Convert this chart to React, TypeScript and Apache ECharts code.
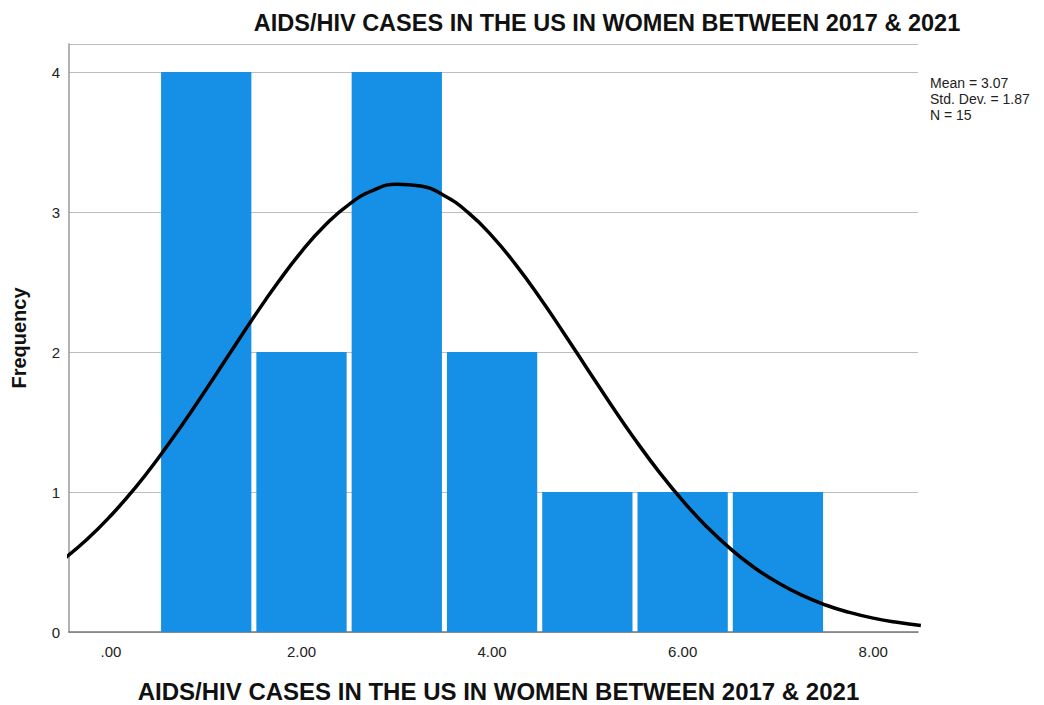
import React, { useEffect, useRef } from "react";
import * as echarts from "echarts";

const titleText = "AIDS/HIV CASES IN THE US IN WOMEN BETWEEN 2017 & 2021";
const xAxisName = "AIDS/HIV CASES IN THE US IN WOMEN BETWEEN 2017 & 2021";
const yAxisName = "Frequency";

// histogram bins (centers) and frequencies
const binCenters = [1, 2, 3, 4, 5, 6, 7];
const frequencies = [4, 2, 4, 2, 1, 1, 1];

// normal curve
const curveX = [-0.5, -0.25, 0, 0.25, 0.5, 0.75, 1, 1.25, 1.5, 1.75, 2, 2.25, 2.5, 2.75, 3, 3.25, 3.5, 3.75, 4, 4.25, 4.5, 4.75, 5, 5.25, 5.5, 5.75, 6, 6.25, 6.5, 6.75, 7, 7.25, 7.5, 7.75, 8, 8.25, 8.5];
const curveY = [0.518, 0.662, 0.832, 1.026, 1.245, 1.482, 1.734, 1.993, 2.25, 2.494, 2.717, 2.907, 3.055, 3.154, 3.198, 3.185, 3.116, 2.995, 2.828, 2.622, 2.389, 2.138, 1.879, 1.622, 1.375, 1.146, 0.938, 0.754, 0.595, 0.461, 0.352, 0.263, 0.193, 0.14, 0.099, 0.069, 0.047];

const xTickValues = [0, 2, 4, 6, 8];
const statsLines = ["Mean = 3.07", "Std. Dev. = 1.87", "N = 15"];

export default function App() {
  const ref = useRef<HTMLDivElement>(null);
  useEffect(() => {
    if (!ref.current) return;
    const chart = echarts.init(ref.current, undefined, { renderer: "svg" });
    const font = "'Liberation Sans', Arial, sans-serif";
    chart.setOption({
      animation: false,
      backgroundColor: "#ffffff",
      title: {
        text: titleText,
        left: 602,
        top: 6,
        textAlign: "center",
        textStyle: { fontFamily: font, fontSize: 23.5, fontWeight: "bold", color: "#111" },
      },
      grid: { left: 69, right: 126, top: 44, bottom: 73, containLabel: false, outerBoundsMode: "none" },
      xAxis: {
        type: "value",
        min: -0.44,
        max: 8.47,
        name: xAxisName,
        nameLocation: "middle",
        nameGap: 47,
        nameTextStyle: { fontFamily: font, fontSize: 24, fontWeight: "bold", color: "#111", padding: [0, 0, 0, 10] },
        axisLine: { show: true, onZero: false, lineStyle: { color: "#777", width: 1.5 } },
        axisTick: { show: false },
        splitLine: { show: false },
        axisLabel: {
          customValues: xTickValues,
          margin: 12,
          fontFamily: font,
          fontSize: 15,
          color: "#222",
          formatter: (v: number) => (v === 0 ? ".00" : v.toFixed(2)),
        },
      },
      yAxis: {
        type: "value",
        min: 0,
        max: 4.2,
        interval: 1,
        name: yAxisName,
        nameLocation: "middle",
        nameGap: 40,
        nameRotate: 90,
        nameTextStyle: { fontFamily: font, fontSize: 20, fontWeight: "bold", color: "#111" },
        axisLine: { show: true, onZero: false, lineStyle: { color: "#999", width: 1.5 } },
        axisTick: { show: false },
        splitLine: { show: true, lineStyle: { color: "#bdbdbd", width: 1 } },
        axisLabel: {
          margin: 9,
          fontFamily: font,
          fontSize: 15,
          color: "#222",
          showMaxLabel: false,
          formatter: (v: number) => (Number.isInteger(v) ? String(v) : ""),
        },
      },
      graphic: [
        {
          type: "text",
          left: 930,
          top: 75,
          style: {
            text: statsLines.join("\n"),
            fontFamily: font,
            fontSize: 14,
            lineHeight: 16,
            fill: "#222",
          },
        },
      ],
      series: [
        {
          type: "custom",
          data: binCenters.map((c, i) => [c, frequencies[i]]),
          renderItem: (params: any, api: any) => {
            const c = api.value(0);
            const h = api.value(1);
            const p0 = api.coord([c - 0.5, h]);
            const p1 = api.coord([c + 0.5, 0]);
            return {
              type: "rect",
              shape: { x: p0[0] + 2.5, y: p0[1], width: p1[0] - p0[0] - 5, height: p1[1] - p0[1] },
              style: { fill: "#1590e6" },
            };
          },
          z: 2,
        },
        {
          type: "line",
          data: curveX.map((x, i) => [x, curveY[i]]),
          smooth: true,
          showSymbol: false,
          symbol: "none",
          lineStyle: { color: "#000", width: 3.5 },
          z: 3,
        },
      ],
    });
    return () => chart.dispose();
  }, []);
  return (
    <div
      ref={ref}
      style={{ position: "absolute", left: 0, top: 0, width: 1044, height: 705 }}
    />
  );
}
